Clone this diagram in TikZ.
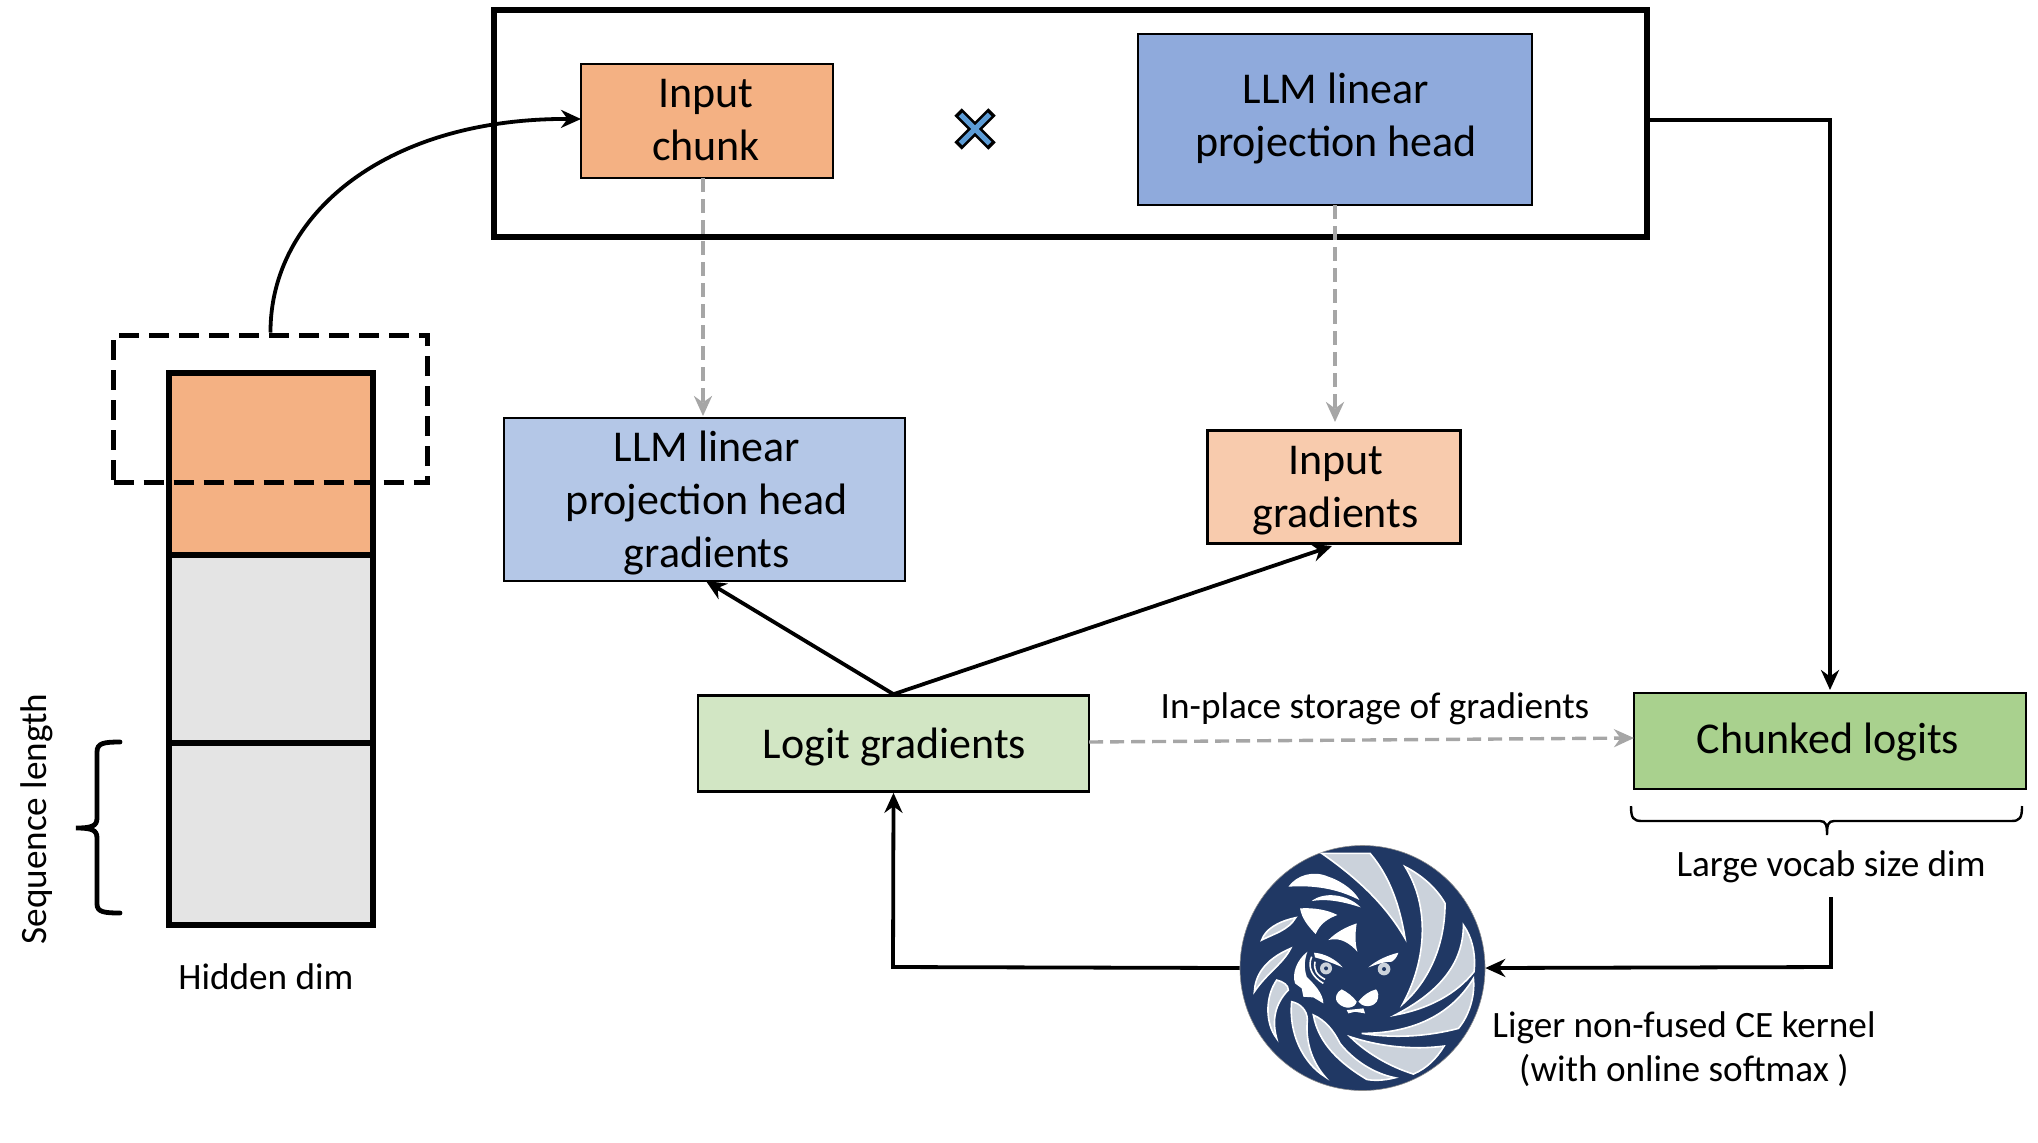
\documentclass[tikz,border=0pt]{standalone}
\usepackage{fontspec}
\setmainfont{Carlito}
\usetikzlibrary{arrows.meta}
\definecolor{cOrange}{HTML}{F4B183}
\definecolor{cBlue}{HTML}{8FAADC}
\definecolor{cLBlue}{HTML}{B4C7E7}
\definecolor{cLOrange}{HTML}{F8CBAD}
\definecolor{cLGreen}{HTML}{D2E6C4}
\definecolor{cGreen}{HTML}{A9D18E}
\definecolor{cCell}{HTML}{E4E4E4}
\definecolor{cNavy}{HTML}{203864}
\definecolor{cBlade}{HTML}{CBD2DB}
\definecolor{cDash}{HTML}{A6A6A6}
\definecolor{cCross}{HTML}{5B9BD5}
\tikzset{
  x=0.5pt,y=-0.5pt,
  boxed/.style={draw=black,line width=1.3pt,inner sep=0pt},
  boxtext/.style={align=center,inner sep=0pt,font=\fontsize{22}{26.5}\selectfont},
  cell/.style={draw=black,line width=2.6pt,fill=cCell,minimum width=102pt,inner sep=0pt},
  lbl/.style={inner sep=0pt,align=center,font=\fontsize{18.6}{22}\selectfont},
  conn/.style={draw=black,line width=1.9pt,-{Stealth[length=10pt,width=9pt]}},
  graydash/.style={draw=cDash,line width=1.7pt,dash pattern=on 7pt off 3.5pt,-{Stealth[length=10pt,width=9pt]}},
  blade/.style={fill=cBlade,draw=white,line width=0.8pt},
  whitepart/.style={fill=white,draw=none},
}
\begin{document}
\begin{tikzpicture}
\useasboundingbox (0,0) rectangle (2038,1142);
% top frame
\node[draw=black,line width=3pt,minimum width=576.5pt,minimum height=113.5pt,inner sep=0pt] (frame) at (1070.5,123.5) {};
\node[boxed,fill=cOrange,minimum width=126pt,minimum height=57pt,label={[boxtext,yshift=0.5pt,xshift=-0.5pt]center:Input\\chunk}] (chunk) at (707,121) {};
\node[boxed,fill=cBlue,minimum width=197pt,minimum height=85.5pt,label={[boxtext,yshift=0.5pt,xshift=0.5pt]center:LLM linear\\projection head}] (head) at (1335,119.5) {};
\node[boxed,fill=cLBlue,minimum width=200.5pt,minimum height=81.5pt,label={[boxtext,yshift=-1.8pt,xshift=1.2pt]center:LLM linear\\projection head\\gradients}] (headgrad) at (704.5,499.5) {};
\node[boxed,fill=cLOrange,minimum width=126.5pt,minimum height=56.5pt,label={[boxtext,yshift=-1.8pt,xshift=0.8pt]center:Input\\gradients}] (inputgrad) at (1334,487) {};
\node[boxed,fill=cLGreen,minimum width=195.5pt,minimum height=48pt,label={[boxtext,yshift=-1.8pt,xshift=0.5pt]center:Logit gradients}] (logit) at (893.5,743.5) {};
\node[boxed,fill=cGreen,minimum width=196pt,minimum height=48pt,label={[boxtext,yshift=-0.5pt,xshift=-1pt]center:Chunked logits}] (chunked) at (1830,741) {};
% cross
\draw[line width=5.2pt,black] (958,112) -- (992,146) (958,146) -- (992,112);
\draw[line width=2.6pt,cCross] (960.5,114.5) -- (989.5,143.5) (960.5,143.5) -- (989.5,114.5);
% stack
\node[cell,fill=cOrange,minimum height=91pt] (s1) at (271,464) {};
\node[cell,minimum height=94pt] (s2) at (271,649) {};
\node[cell,minimum height=91pt] (s3) at (271,834) {};
\node[draw=black,line width=2.5pt,dash pattern=on 10pt off 5pt,minimum width=157pt,minimum height=73.5pt,inner sep=0pt] (window) at (270.5,408.5) {};
% labels
\node[lbl] (hidden) at (266,977) {Hidden dim};
\node[lbl,rotate=90] (seq) at (37,819) {Sequence length};
\node[lbl] (inplace) at (1375,709) {In-place storage of gradients};
\node[lbl] (vocab) at (1831,867) {Large vocab size dim};
\node[lbl] (kernel) at (1684,1049) {Liger non-fused CE kernel\\(with online softmax )};
% seq brace
\draw[line width=2.4pt,line cap=round] (120,742) .. controls (104,742) and (97,743) .. (97,752) -- (97,818) .. controls (97,826) and (92,828) .. (76,828) .. controls (92,828) and (97,830) .. (97,838) -- (97,904) .. controls (97,912) and (104,913) .. (120,913);
% vocab brace
\draw[line width=1.2pt] (1631,806) .. controls (1631,818) and (1633,821) .. (1642,821) -- (1820,821) .. controls (1826,821) and (1827,825) .. (1827,835) .. controls (1827,825) and (1828,821) .. (1834,821) -- (2011,821) .. controls (2020,821) and (2022,818) .. (2022,806);
% logo
\node[circle,fill=cNavy,draw=black!45,line width=0.3pt,minimum size=122.5pt,inner sep=0pt] (logo) at (1362.5,968) {};
\begin{scope}[shift={(1200,820)},x=0.1667pt,y=-0.1667pt]
\path[blade] (365,100) -- (510,100) .. controls (570,170) and (600,260) .. (615,355) .. controls (560,260) and (480,180) .. (365,100) -- cycle;
\path[blade] (615,140) .. controls (665,165) and (710,205) .. (735,250) .. controls (735,370) and (690,480) .. (608,552) .. controls (680,420) and (690,260) .. (615,140) -- cycle;
\path[blade] (790,315) .. controls (815,350) and (828,400) .. (822,455) .. controls (770,520) and (690,565) .. (585,585) .. controls (690,530) and (790,450) .. (790,315) -- cycle;
\path[blade] (820,475) .. controls (826,530) and (805,590) .. (775,625) .. controls (680,650) and (580,655) .. (485,640) .. controls (630,640) and (750,590) .. (820,475) -- cycle;
\path[blade] (450,650) .. controls (540,680) and (640,690) .. (732,678) .. controls (710,715) and (680,745) .. (640,762) .. controls (570,740) and (500,700) .. (450,650) -- cycle;
\path[blade] (340,585) .. controls (375,600) and (400,630) .. (420,670) .. controls (460,720) and (520,760) .. (585,773) .. controls (550,782) and (520,782) .. (500,778) .. controls (420,730) and (355,670) .. (340,585) -- cycle;
\path[blade] (275,545) .. controls (300,550) and (322,570) .. (322,600) .. controls (315,670) and (340,730) .. (375,770) .. controls (310,730) and (265,640) .. (275,545) -- cycle;
\path[blade] (230,480) .. controls (250,485) and (265,495) .. (265,510) .. controls (225,550) and (215,600) .. (230,655) .. controls (195,610) and (195,530) .. (230,480) -- cycle;
\path[blade] (163,515) .. controls (165,470) and (190,420) .. (272,385) .. controls (250,430) and (200,460) .. (163,515) -- cycle;
\path[blade] (185,360) .. controls (195,330) and (230,305) .. (287,293) .. controls (265,330) and (225,340) .. (185,360) -- cycle;
\path[whitepart] (265,200) .. controls (290,165) and (340,150) .. (385,170) .. controls (430,185) and (465,215) .. (478,240) .. controls (410,205) and (340,195) .. (265,200) -- cycle;
\path[whitepart] (335,243) .. controls (370,215) and (440,220) .. (482,262) .. controls (430,245) and (380,235) .. (335,243) -- cycle;
\path[whitepart] (300,265) .. controls (340,262) and (385,270) .. (412,285) .. controls (385,295) and (360,310) .. (347,342) .. controls (325,320) and (305,295) .. (300,265) -- cycle;
\path[whitepart] (385,360) .. controls (410,335) and (440,320) .. (470,310) .. controls (465,340) and (465,370) .. (472,395) .. controls (450,370) and (420,350) .. (385,360) -- cycle;
% mane
\path[whitepart] (322,395) .. controls (290,420) and (275,460) .. (285,490) -- (305,505) -- (310,530) -- (340,532) -- (370,550) .. controls (370,520) and (340,490) .. (320,470) .. controls (310,440) and (315,415) .. (322,395) -- cycle;
\draw[white,line width=0.8pt] (335,410) .. controls (322,440) and (335,470) .. (370,490);
\draw[white,line width=0.8pt] (345,425) .. controls (340,450) and (350,465) .. (375,478);
% eyes
\path[whitepart] (342,398) .. controls (375,400) and (410,420) .. (428,442) .. controls (405,432) and (375,420) .. (345,412) -- cycle;
\path[whitepart] (505,442) .. controls (530,420) and (565,405) .. (595,398) .. controls (590,412) and (585,418) .. (575,425) .. controls (550,425) and (525,435) .. (505,442) -- cycle;
\fill[cBlade] (378,445) circle (18);
\fill[cBlade] (552,447) circle (19);
\fill[cNavy] (378,445) circle (6);
\fill[cNavy] (552,447) circle (6);
% nose
\path[whitepart] (425,508) .. controls (440,515) and (460,530) .. (470,545) .. controls (465,565) and (435,570) .. (415,550) .. controls (400,535) and (410,515) .. (425,508) -- cycle;
\path[whitepart] (528,508) .. controls (510,512) and (490,525) .. (475,545) .. controls (485,560) and (515,565) .. (530,545) .. controls (538,530) and (535,515) .. (528,508) -- cycle;
\path[whitepart] (440,570) -- (490,565) -- (495,580) -- (465,575) -- (445,580) -- cycle;
\end{scope}
% coordinates
\coordinate (curveStart) at (window.north);
\coordinate (chunkIn) at (581,119);
\coordinate (chunkOut) at (703,178);
\coordinate (chunkDown) at (703,416);
\coordinate (headOut) at (1335,205);
\coordinate (headIn) at (1335,422);
\coordinate (gradIn) at (706,581);
\coordinate (inIn) at (1332,546);
\coordinate (logitOut) at (1089,742);
\coordinate (chunkedIn) at (1634,738);
\coordinate (frameOut) at (1647,120);
\coordinate (elbowA) at (1830,120);
\coordinate (chunkedTop) at (1830,690);
\coordinate (vocabOut) at (1831,897);
\coordinate (elbowB) at (1831,967);
\coordinate (elbowC) at (893,967);
% connectors
\draw[conn] (curveStart) .. controls (270,215) and (385,118) .. (chunkIn);
\draw[graydash] (chunkOut) -- (chunkDown);
\draw[graydash] (headOut) -- (headIn);
\draw[conn] (logit.north) -- (gradIn);
\draw[conn] (logit.north) -- (inIn);
\draw[graydash] (logitOut) -- (chunkedIn);
\draw[conn] (frameOut) -- (elbowA) -- (chunkedTop);
\draw[conn] (vocabOut) -- (elbowB) -- (logo.east);
\draw[conn] (logo.west) -- (elbowC) -- (logit.south);
\end{tikzpicture}
\end{document}
